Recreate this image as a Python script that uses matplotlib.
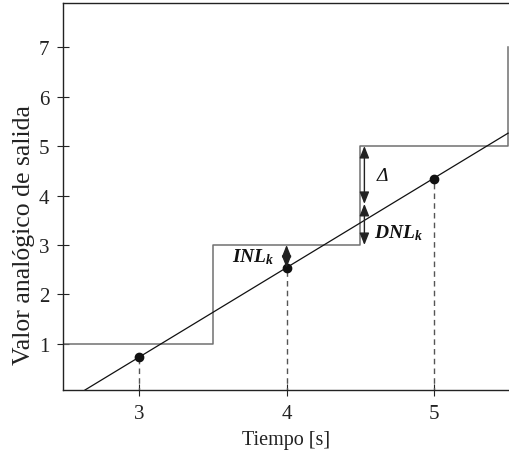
import matplotlib
matplotlib.use('Agg')
import matplotlib.pyplot as plt

plt.rcParams['font.family'] = ['Liberation Serif', 'DejaVu Serif']
plt.rcParams['mathtext.fontset'] = 'custom'
plt.rcParams['mathtext.rm'] = 'Liberation Serif'
plt.rcParams['mathtext.it'] = 'Liberation Serif:italic:bold'

# staircase output of the converter (code edges and levels)
step_x = [2.48, 3.5, 3.5, 4.5, 4.5, 5.5, 5.5]
step_y = [1, 1, 3, 3, 5, 5, 7]

# ideal transfer line (end points)
ideal_x = [2.635, 5.5]
ideal_y = [0.07, 5.26]

# sample instants and ideal values at those instants
sample_t = [3, 4, 5]
sample_v = [0.73, 2.54, 4.33]

# error markers
inl_x, inl_top, inl_bot = 4.0, 3.0, 2.54
dnl_x, delta_top, delta_bot, dnl_bot = 4.527, 5.0, 3.83, 3.0

xticks = [3, 4, 5]
yticks = [1, 2, 3, 4, 5, 6, 7]

fig = plt.figure(figsize=(5.1, 4.6), dpi=100)
ax = fig.add_axes([0.1235, 0.15, 0.8765, 0.8413])

ax.plot(step_x, step_y, color='#707070', lw=1.1)
ax.plot(ideal_x, ideal_y, color='#111111', lw=0.9)

for t, v in zip(sample_t, sample_v):
    ax.plot([t, t], [0, v], color='#555555', lw=1.0, ls=(0, (4, 3)))
ax.plot(sample_t, sample_v, 'o', color='#111111', ms=6)

arrow = dict(arrowstyle='<|-|>,head_length=0.6,head_width=0.24',
             color='#222222', lw=1.0, mutation_scale=12, shrinkA=0, shrinkB=0)
ax.annotate('', xy=(inl_x, inl_bot), xytext=(inl_x, inl_top), arrowprops=arrow)
ax.annotate('', xy=(dnl_x, delta_bot), xytext=(dnl_x, delta_top), arrowprops=arrow)
ax.annotate('', xy=(dnl_x, dnl_bot), xytext=(dnl_x, delta_bot), arrowprops=arrow)

ax.text(3.92, 2.77, r'$INL_k$', fontsize=14, ha='right', va='center', color='#111111')
ax.text(4.61, 4.4, 'Δ', fontsize=14, style='italic', ha='left', va='center', color='#111111')
ax.text(4.59, 3.26, r'$DNL_k$', fontsize=14, ha='left', va='center', color='#111111')

ax.set_xlim(2.486, 5.513)
ax.set_ylim(0.07, 7.89)
ax.set_xticks(xticks)
ax.set_yticks(yticks)
ax.tick_params(direction='inout', length=8, width=0.8, labelsize=15,
               pad=6, colors='#222222')
ax.spines['right'].set_visible(False)
for s in ['left', 'bottom', 'top']:
    ax.spines[s].set_linewidth(1.0)
    ax.spines[s].set_color('#222222')

ax.set_xlabel('Tiempo [s]', fontsize=14.5, color='#222222', labelpad=5)
ax.set_ylabel('Valor analógico de salida', fontsize=18.5, color='#222222')
ax.yaxis.set_label_coords(-0.062, 0.403)

fig.savefig('out.png', dpi=100)
